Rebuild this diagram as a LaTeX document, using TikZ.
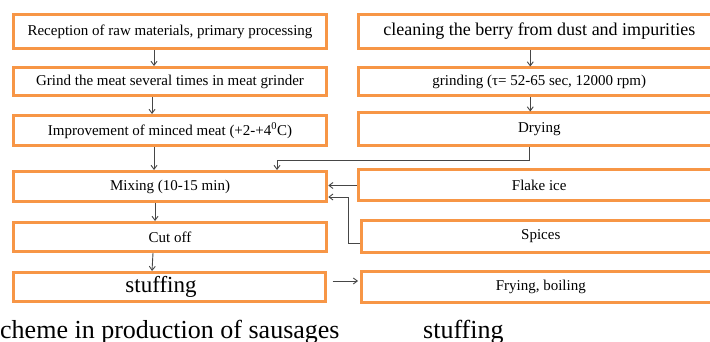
\documentclass[tikz,border=0pt]{standalone}
\usepackage{fontspec}
\usepackage{tikz}
\usetikzlibrary{arrows.meta}
\setmainfont{Liberation Serif}
\definecolor{boxorange}{RGB}{247,150,70}
\definecolor{flowgray}{RGB}{70,70,70}
\tikzset{
  stepbox/.style={draw=boxorange, line width=3pt, fill=white, inner sep=0pt,
    font=\fontsize{15}{17}\selectfont},
  flow/.style={draw=flowgray, line width=0.9pt, -{Straight Barb[length=4pt,width=6pt]}},
  caption/.style={inner sep=0pt, font=\fontsize{26}{28}\selectfont}
}

\begin{document}
\begin{tikzpicture}[x=1pt,y=-1pt]
      \useasboundingbox (0,0) rectangle (710,342);

      % Draw the left column (sausage production)
      \node[stepbox, minimum width=313.5, minimum height=34] (recep) at (170,31.5) {Reception of raw materials, primary processing};
      \node[stepbox, minimum width=313.5, minimum height=28] (grind) at (170,81.5) {Grind the meat several times in meat grinder};
      \node[stepbox, minimum width=313.5, minimum height=30] (impr) at (170,130.5) {Improvement of minced meat (+2-+4\textsuperscript{0}C)};
      \node[stepbox, minimum width=313.5, minimum height=30] (mix) at (170,186.5) {Mixing (10-15 min)};
      \node[stepbox, minimum width=313.5, minimum height=29] (cut) at (170,237) {Cut off};
      \node[stepbox, minimum width=312, minimum height=29, font=\fontsize{23}{25}\selectfont] (stuff) at (169,287) {\hspace*{-16pt}stuffing};

      % Draw the right column (berry and additions)
      \node[stepbox, minimum width=361.5, minimum height=34, font=\fontsize{18}{20}\selectfont] (clean) at (539.25,31.5) {cleaning the berry from dust and impurities};
      \node[stepbox, minimum width=361.5, minimum height=28] (grindb) at (539.25,82) {grinding (τ= 52-65 sec, 12000 rpm)};
      \node[stepbox, minimum width=361.5, minimum height=33] (dry) at (539.25,129.5) {Drying};
      \node[stepbox, minimum width=361.5, minimum height=31] (flake) at (539.25,185.5) {Flake ice};
      \node[stepbox, minimum width=358.5, minimum height=32] (spice) at (540.75,236) {Spices};
      \node[stepbox, minimum width=358.5, minimum height=31] (fry) at (540.75,286.5) {Frying, boiling};

      % Draw the arrows of the left column
      \draw[flow] ([xshift=-16]recep.south) -- ([xshift=-16]grind.north);
      \draw[flow] ([xshift=-18]grind.south) -- ([xshift=-18]impr.north);
      \draw[flow] ([xshift=-16]impr.south) -- ([xshift=-16]mix.north);
      \draw[flow] ([xshift=-15]mix.south) -- ([xshift=-15]cut.north);
      \draw[flow] ([xshift=-17]cut.south) -- ([xshift=-17]stuff.north);

      % Draw the arrows of the right column and the feeds into mixing
      \draw[flow] ([xshift=-9]clean.south) -- ([xshift=-9]grindb.north);
      \draw[flow] ([xshift=-9]grindb.south) -- ([xshift=-9]dry.north);
      \draw[flow] ([xshift=-10]dry.south) -- ++(0,13) -| ([xshift=107]mix.north);
      \draw[flow] (flake.west) -- (flake.west -| mix.east);
      \draw[flow] ([yshift=-7]spice.west) -- ++(-12,0) |- ([yshift=-10.5]mix.east);
      \draw[flow, shorten <=6pt, shorten >=2pt] ([yshift=6]stuff.east) -- ([yshift=6]stuff.east -| fry.west);

      % Captions under the columns
      \node[caption, anchor=base west] (capleft) at (0,338) {cheme in production of sausages};
      \node[caption, anchor=base west] (capright) at (423,338) {stuffing};
  \end{tikzpicture}
\end{document}
